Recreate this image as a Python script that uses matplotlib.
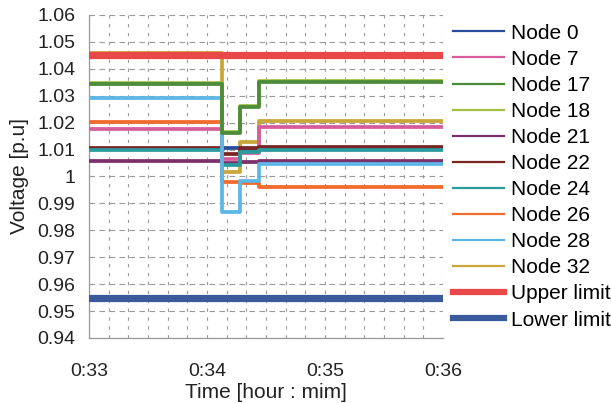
import matplotlib
matplotlib.use("Agg")
import matplotlib.pyplot as plt
from matplotlib.ticker import FixedLocator, MultipleLocator

plt.rcParams["font.family"] = ["Liberation Sans", "DejaVu Sans"]

# Segment start times, seconds after 0:33:00 (last entry closes the final step)
seg_times = [0.0, 67.5, 77.0, 86.5, 180.0]

# Node voltages [p.u] for each segment
node_names = ["Node 0", "Node 7", "Node 17", "Node 18", "Node 21",
              "Node 22", "Node 24", "Node 26", "Node 28", "Node 32"]
node_0 = [1.0102, 1.0106, 1.0104, 1.0103]
node_7 = [1.0175, 1.0064, 1.0086, 1.0183]
node_17 = [1.0345, 1.0163, 1.0258, 1.0350]
node_18 = [1.0349, 1.0166, 1.0261, 1.0354]
node_21 = [1.0056, 1.0050, 1.0055, 1.0057]
node_22 = [1.0107, 1.0085, 1.0106, 1.0108]
node_24 = [1.0097, 1.0044, 1.0092, 1.0098]
node_26 = [1.0203, 0.9978, 0.9975, 0.9960]
node_28 = [1.0293, 0.9868, 0.9983, 1.0045]
node_32 = [1.0457, 1.0018, 1.0127, 1.0205]
upper_limit = 1.045
lower_limit = 0.955

node_colors = ["#2b4c9b", "#d65c9c", "#4b8b3b", "#a3c043", "#7b2f6b",
               "#7a2424", "#2a9c9e", "#f26a2c", "#5cb6e6", "#c9a63a"]

x_ticks = [0, 60, 120, 180]
x_tick_labels = ["0:33", "0:34", "0:35", "0:36"]
y_ticks = [0.94, 0.95, 0.96, 0.97, 0.98, 0.99, 1.00,
           1.01, 1.02, 1.03, 1.04, 1.05, 1.06]
y_tick_labels = ["0.94", "0.95", "0.96", "0.97", "0.98", "0.99", "1",
                 "1.01", "1.02", "1.03", "1.04", "1.05", "1.06"]

fig = plt.figure(figsize=(6.11, 4.03), dpi=100)
ax = fig.add_axes([0.1457, 0.1613, 0.5793, 0.8015])

series = [node_0, node_7, node_17, node_18, node_21,
          node_22, node_24, node_26, node_28, node_32]
z_order = [3, 3, 4, 3.5, 3, 3, 3, 3, 3, 2.5]
for name, vals, col, z in zip(node_names, series, node_colors, z_order):
    ax.plot(seg_times, vals + [vals[-1]], drawstyle="steps-post",
            color=col, lw=2.7, label=name, zorder=z)

ax.plot([seg_times[0], seg_times[-1]], [upper_limit, upper_limit],
        color="#e84848", lw=5.2, label="Upper limit", zorder=2.8)
ax.plot([seg_times[0], seg_times[-1]], [lower_limit, lower_limit],
        color="#3a5a9c", lw=5.2, label="Lower limit", zorder=2.8)

ax.set_xlim(0, 180)
ax.set_ylim(0.94, 1.06)
ax.xaxis.set_major_locator(FixedLocator(x_ticks))
ax.xaxis.set_minor_locator(MultipleLocator(10))
ax.set_xticklabels(x_tick_labels)
ax.yaxis.set_major_locator(FixedLocator(y_ticks))
ax.set_yticklabels(y_tick_labels)

ax.tick_params(axis="both", which="both", length=0, labelsize=14,
               colors="#222222")
ax.tick_params(axis="x", pad=18)
ax.tick_params(axis="y", pad=10)

ax.grid(True, which="both", axis="x", color="#999999", lw=0.8,
        linestyle=(0, (3, 5)))
ax.grid(True, which="major", axis="y", color="#999999", lw=0.8,
        linestyle=(0, (5, 4)))
ax.set_axisbelow(True)

for side in ["top", "right"]:
    ax.spines[side].set_visible(False)
for side in ["left", "bottom"]:
    ax.spines[side].set_color("#9a9a9a")
    ax.spines[side].set_linewidth(0.9)

ax.set_xlabel("Time [hour : mim]", fontsize=15, color="#222222",
              labelpad=2.5)
ax.set_ylabel("Voltage [p.u]", fontsize=15, color="#222222", labelpad=6)

handles, labels = ax.get_legend_handles_labels()
leg = fig.legend(handles, labels, loc="upper left",
                 bbox_to_anchor=(0.728, 0.962), frameon=False,
                 fontsize=15, handlelength=2.45, handletextpad=0.34,
                 labelspacing=0.34, borderaxespad=0)
for i, line in enumerate(leg.get_lines()):
    line.set_linewidth(1.6 if i < len(node_names) else 4.5)

fig.savefig("out.png", dpi=100)
